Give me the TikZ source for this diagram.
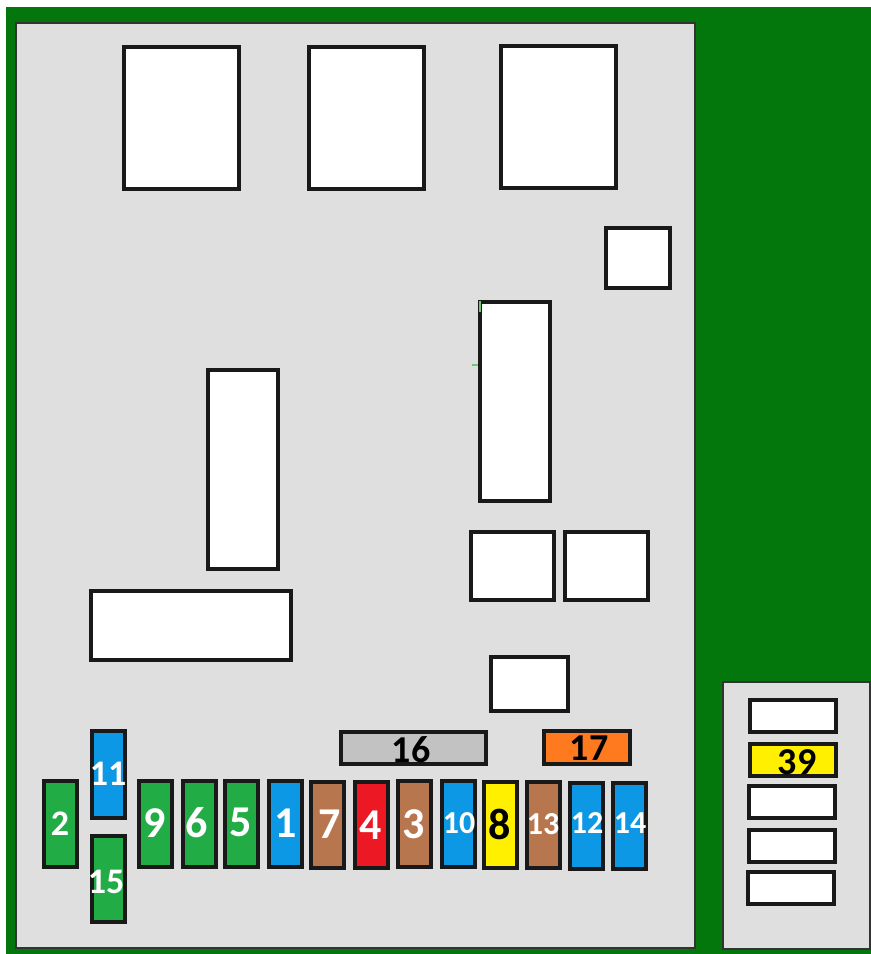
\documentclass[tikz,border=0pt]{standalone}
\usepackage{fontspec}
\setmainfont{Carlito}
\definecolor{bggreen}{RGB}{3,118,12}
\definecolor{panelgrey}{RGB}{223,223,224}
\definecolor{fgreen}{RGB}{34,172,70}
\definecolor{fblue}{RGB}{12,152,228}
\definecolor{fbrown}{RGB}{184,118,78}
\definecolor{fred}{RGB}{236,24,36}
\definecolor{fyellow}{RGB}{255,240,0}
\definecolor{fgrey}{RGB}{194,194,194}
\definecolor{forange}{RGB}{255,122,30}
\definecolor{speck}{RGB}{110,200,110}
\newcommand{\bx}[6]{% name, style, x0, y0, x1, y1
  \pgfmathsetmacro{\bw}{(#5-#3)*0.75}\pgfmathsetmacro{\bh}{(#6-#4)*0.75}
  \node[#2,minimum width=\bw pt,minimum height=\bh pt] (#1) at ({(#3+#5)/2},{-(#4+#6)/2}) {};}
\newcommand{\lb}[6]{% name, text colour, size px, x, y, text
  \pgfmathsetmacro{\fsz}{#3*0.75}
  \node[lab,text=#2,font=\fontsize{\fsz pt}{\fsz pt}\selectfont\bfseries] (#1) at (#4,-#5) {#6};}
\tikzset{
  x=0.75pt,y=0.75pt,
  box/.style={draw=black!90,line width=2.32pt,inner sep=0pt,outer sep=0pt,rectangle},
  slot/.style={box,fill=white},
  panel/.style={draw=black!80,line width=1.7pt,fill=panelgrey,inner sep=0pt,outer sep=0pt,rectangle},
  green fuse/.style={box,fill=fgreen},
  blue fuse/.style={box,fill=fblue},
  brown fuse/.style={box,fill=fbrown},
  lab/.style={inner sep=0pt,outer sep=0pt},
}
\begin{document}
\begin{tikzpicture}
\useasboundingbox (0,0) rectangle (871,-954);
\fill[bggreen] (6,-7) rectangle (871,-954);
\bx{mainpanel}{panel}{16}{23}{695}{948}
\bx{sidepanel}{panel}{723}{682}{870}{949}
% relays
\bx{r1}{slot}{124}{47}{239}{189}
\bx{r2}{slot}{309}{47}{424}{189}
\bx{r3}{slot}{501}{46}{616}{188}
\bx{r4}{slot}{606}{228}{670}{288}
\bx{r5}{slot}{480}{302}{550}{501}
\bx{r6}{slot}{208}{370}{278}{569}
\bx{r7}{slot}{471}{532}{554}{600}
\bx{r8}{slot}{565}{532}{648}{600}
\bx{r9}{slot}{91}{591}{291}{660}
\bx{r10}{slot}{491}{657}{568}{711}
\draw[speck,line width=1.5pt] (480,-301) -- (480,-312);
\draw[speck,line width=1pt] (472,-365) -- (478,-365);
% long fuses
\bx{f16}{box,fill=fgrey}{341}{732}{486}{764}
\bx{f17}{box,fill=forange}{544}{731}{630}{764}
% row of fuses
\bx{f2}{green fuse}{44}{781}{77}{867}
\bx{f11}{blue fuse}{92}{731}{125}{818}
\bx{f15}{green fuse}{92}{836}{125}{922}
\bx{f9}{green fuse}{139}{781}{172}{867}
\bx{f6}{green fuse}{183}{781}{216}{867}
\bx{f5}{green fuse}{225}{781}{258}{867}
\bx{f1}{blue fuse}{269}{781}{302}{867}
\bx{f7}{brown fuse}{311}{782}{344}{868}
\bx{f4}{box,fill=fred}{355}{782}{388}{868}
\bx{f3}{brown fuse}{398}{781}{431}{867}
\bx{f10}{blue fuse}{442}{781}{475}{867}
\bx{f8}{box,fill=fyellow}{484}{782}{517}{868}
\bx{f13}{brown fuse}{527}{782}{560}{868}
\bx{f12}{blue fuse}{570}{783}{603}{869}
\bx{f14}{blue fuse}{613}{783}{646}{869}
% side panel
\bx{s1}{slot}{750}{700}{836}{732}
\bx{s39}{box,fill=fyellow}{750}{744}{836}{776}
\bx{s3}{slot}{749}{786}{835}{818}
\bx{s4}{slot}{749}{830}{835}{862}
\bx{s5}{slot}{748}{872}{834}{904}
% labels
\lb{t16}{black}{38}{411}{750}{16}
\lb{t17}{black}{38}{589}{748}{17}
\lb{t39}{black}{38}{797}{762}{39}
\lb{t2}{white}{36}{60}{824}{2}
\lb{t11}{white}{36}{108}{774}{11}
\lb{t15}{white}{36}{106}{882}{15}
\lb{t9}{white}{44}{155}{823}{9}
\lb{t6}{white}{44}{197}{823}{6}
\lb{t5}{white}{44}{241}{822}{5}
\lb{t1}{white}{44}{286}{823}{1}
\lb{t7}{white}{44}{330}{824}{7}
\lb{t4}{white}{44}{371}{825}{4}
\lb{t3}{white}{44}{414}{824}{3}
\lb{t10}{white}{32}{459}{823}{10}
\lb{t8}{black}{44}{500}{824}{8}
\lb{t13}{white}{32}{543}{824}{13}
\lb{t12}{white}{32}{587}{823}{12}
\lb{t14}{white}{32}{630}{823}{14}
\end{tikzpicture}
\end{document}
